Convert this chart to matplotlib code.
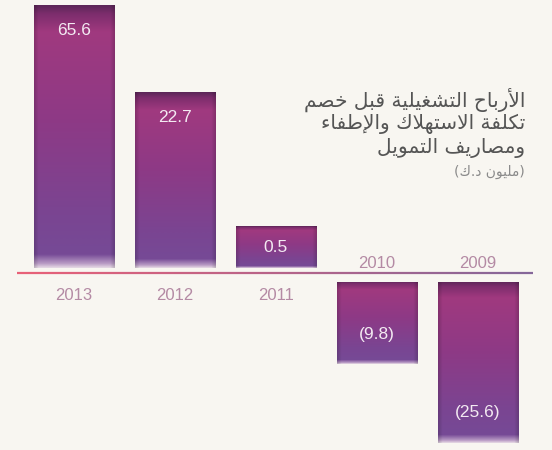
import numpy as np
import matplotlib.pyplot as plt
from matplotlib.collections import LineCollection
from matplotlib.image import BboxImage
from matplotlib.transforms import Bbox, TransformedBbox

# Dados do gráfico
anos = ['2013', '2012', '2011', '2010', '2009']
valores = [65.6, 22.7, 0.5, -9.8, -25.6]
rotulos = ['65.6', '22.7', '0.5', '(9.8)', '(25.6)']

titulo = ['الأرباح التشغيلية قبل خصم',
          'تكلفة الاستهلاك والإطفاء',
          'ومصاريف التمويل']
subtitulo = '(مليون د.ك)'

# Formas de apresentação árabes (isolada, final, inicial, medial)
FORMAS = {
    'ء': (0xFE80, 1), 'أ': (0xFE83, 2), 'إ': (0xFE87, 2), 'ا': (0xFE8D, 2),
    'ب': (0xFE8F, 4), 'ة': (0xFE93, 2), 'ت': (0xFE95, 4), 'ح': (0xFEA1, 4),
    'خ': (0xFEA5, 4), 'د': (0xFEA9, 2), 'ر': (0xFEAD, 2), 'س': (0xFEB1, 4),
    'ش': (0xFEB5, 4), 'ص': (0xFEB9, 4), 'ط': (0xFEC1, 4), 'غ': (0xFECD, 4),
    'ف': (0xFED1, 4), 'ق': (0xFED5, 4), 'ك': (0xFED9, 4), 'ل': (0xFEDD, 4),
    'م': (0xFEE1, 4), 'ن': (0xFEE5, 4), 'ه': (0xFEE9, 4), 'و': (0xFEED, 2),
    'ي': (0xFEF1, 4),
}
LAM_ALEF = {'ا': 0xFEFB, 'أ': 0xFEF7, 'إ': 0xFEF9, 'آ': 0xFEF5}
ESPELHO = {'(': ')', ')': '('}


def arabe(texto):
    out = []
    liga_ant = False
    i = 0
    while i < len(texto):
        c = texto[i]
        prox = texto[i + 1] if i + 1 < len(texto) else None
        if c not in FORMAS:
            out.append(c)
            liga_ant = False
            i += 1
            continue
        if c == 'ل' and prox in LAM_ALEF:
            out.append(chr(LAM_ALEF[prox] + (1 if liga_ant else 0)))
            liga_ant = False
            i += 2
            continue
        base, n = FORMAS[c]
        liga_prox = n == 4 and prox in FORMAS and FORMAS[prox][1] >= 2
        if n == 1:
            f = 0
        elif liga_ant and liga_prox:
            f = 3
        elif liga_ant:
            f = 1
        elif liga_prox:
            f = 2
        else:
            f = 0
        out.append(chr(base + f))
        liga_ant = liga_prox
        i += 1
    return ''.join(ESPELHO.get(c, c) for c in reversed(out))


# Gradiente das barras (de cima para baixo)
paradas = [0.0, 0.03, 0.10, 0.45, 0.80, 0.95, 0.985, 1.0]
cores = ['#5c2658', '#7c2d6c', '#a0397f', '#8d3a86', '#7a4592',
         '#764a96', '#b89ac4', '#e2d4e2']


def gradiente(n=200, m=60):
    t = np.linspace(0, 1, n)
    rgb = np.array([[int(c[k:k + 2], 16) / 255 for k in (1, 3, 5)] for c in cores])
    col = np.stack([np.interp(t, paradas, rgb[:, k]) for k in range(3)], axis=1)
    s = np.linspace(0, 1, m)
    borda = 1 - 0.15 * np.clip(1 - np.minimum(s, 1 - s) / 0.05, 0, 1)
    return col[:, None, :] * borda[None, :, None]


fundo = '#f8f6f1'
fig = plt.figure(figsize=(5.52, 4.5), dpi=100, facecolor=fundo)
ax_sup = fig.add_axes([0, 182 / 450, 1, 268 / 450])
ax_inf = fig.add_axes([0, 0, 1, 168 / 450])

# escalas não lineares (as barras do original não são proporcionais)
pot_sup = 0.38
pot_inf = 0.7
ax_sup.set_yscale('function', functions=(lambda v: np.sign(v) * np.abs(v) ** pot_sup,
                                         lambda v: np.sign(v) * np.abs(v) ** (1 / pot_sup)))
ax_inf.set_yscale('function', functions=(lambda v: np.sign(v) * np.abs(v) ** pot_inf,
                                         lambda v: np.sign(v) * np.abs(v) ** (1 / pot_inf)))

x = np.arange(len(anos))
vmax = max(valores)
vmin = min(valores)
ax_sup.set_ylim(0, (vmax ** pot_sup * 268 / 263) ** (1 / pot_sup))
ax_inf.set_ylim(-((abs(vmin) ** pot_inf) * 168 / 161) ** (1 / pot_inf), 0)

for ax in (ax_sup, ax_inf):
    ax.set_xlim(-0.733, 4.733)
    ax.set_facecolor('none')
    ax.axis('off')

img_grad = gradiente()
cor_ano = '#b48aa4'
for i, v in enumerate(valores):
    ax = ax_sup if v >= 0 else ax_inf
    outro = ax_inf if v >= 0 else ax_sup
    barra = ax.bar(x[i], v, width=0.80, color='#8d3a86', zorder=2)[0]
    y0, y1 = sorted([barra.get_y(), barra.get_y() + barra.get_height()])
    bb = TransformedBbox(Bbox.from_extents(barra.get_x(), y0,
                                           barra.get_x() + barra.get_width(), y1),
                         ax.transData)
    im = BboxImage(bb, interpolation='bilinear', origin='upper', zorder=3)
    im.set_data(img_grad)
    ax.add_artist(im)

    # rótulo do valor
    p0 = ax.transData.transform((x[i], 0))[1]
    p1 = ax.transData.transform((x[i], v))[1]
    h = abs(p1 - p0)
    if v >= 0:
        off = -25 if h > 60 else -h / 2
    else:
        off = 30 if h > 60 else h / 2
    ax.annotate(rotulos[i], (x[i], v), xytext=(0, off), textcoords='offset pixels',
                ha='center', va='center', fontsize=12.5, color='#f3eaf2',
                family='Liberation Sans', zorder=5)

    # rótulo do ano, do outro lado da linha
    outro.annotate(anos[i], (x[i], 0), xytext=(0, -14 if v >= 0 else 4),
                   textcoords='offset pixels', ha='center', va='center',
                   fontsize=12, color=cor_ano, family='Liberation Sans',
                   annotation_clip=False, zorder=5)

# linha base com degradê
xs = np.linspace(17 / 552, 533 / 552, 60)
yb = 177 / 450
segs = [[(xs[k], yb), (xs[k + 1], yb)] for k in range(len(xs) - 1)]
c0 = np.array([0.91, 0.38, 0.47])
c1 = np.array([0.52, 0.40, 0.60])
tt = np.linspace(0, 1, len(segs))[:, None]
lc = LineCollection(segs, colors=c0 * (1 - tt) + c1 * tt, linewidths=1.6,
                    transform=fig.transFigure)
fig.add_artist(lc)

# título em árabe
for k, linha in enumerate(titulo):
    fig.text(525 / 552, 1 - (100 + 24 * k) / 450, arabe(linha), ha='right', va='center',
             fontsize=14.5, color='#555555', family='DejaVu Sans')
fig.text(525 / 552, 1 - 172 / 450, arabe(subtitulo), ha='right', va='center',
         fontsize=10, color='#8a8a8a', family='DejaVu Sans')

fig.savefig('out.png', dpi=100, facecolor=fundo)
